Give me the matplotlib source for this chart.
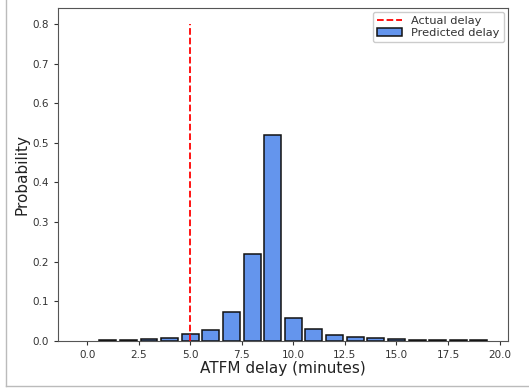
import numpy as np
import matplotlib
matplotlib.use("Agg")
import matplotlib.pyplot as plt
from matplotlib.lines import Line2D

# predicted delay distribution, one bar per minute
delay_minutes = np.arange(0, 20)
probability = [0.0, 0.001, 0.001, 0.004, 0.007, 0.016, 0.027, 0.072, 0.218, 0.52,
               0.058, 0.030, 0.015, 0.009, 0.006, 0.004, 0.001, 0.001, 0.001, 0.001]
actual_delay = 5.0
actual_top = 0.8

fig = plt.figure(figsize=(5.29, 3.89), dpi=100)
ax = fig.add_axes([0.110, 0.124, 0.850, 0.855])

edges = ["none" if p == 0 else "#111111" for p in probability]
ax.bar(delay_minutes, probability, width=0.82, color="cornflowerblue",
       edgecolor=edges, linewidth=1.1, label="Predicted delay")
ax.vlines(actual_delay, 0, actual_top, colors="red", linestyles="--",
          linewidth=1.3, label="Actual delay")

ax.set_xticks(np.arange(0, 20.1, 2.5))
ax.set_yticks(np.arange(0, 0.81, 0.1))
ax.tick_params(labelsize=7.5, colors="#333333", length=3)
for s in ax.spines.values():
    s.set_color("#555555")
ax.set_xlabel("ATFM delay (minutes)", fontsize=11, color="#222222", labelpad=1)
ax.set_ylabel("Probability", fontsize=11, color="#222222", labelpad=2)
leg = ax.legend(loc="upper right", fontsize=8.2, handlelength=2.2, borderaxespad=0.3,
                labelspacing=0.15, framealpha=1.0)
leg.legend_handles[1].set_edgecolor("#111111")
for t in leg.get_texts():
    t.set_color("#333333")

# screenshot frame
fig.add_artist(Line2D([0.012, 0.012], [0.008, 1.0], transform=fig.transFigure,
                      color="#bbbbbb", linewidth=1))
fig.add_artist(Line2D([0.012, 1.0], [0.008, 0.008], transform=fig.transFigure,
                      color="#bbbbbb", linewidth=1))

fig.savefig("out.png", dpi=100)
